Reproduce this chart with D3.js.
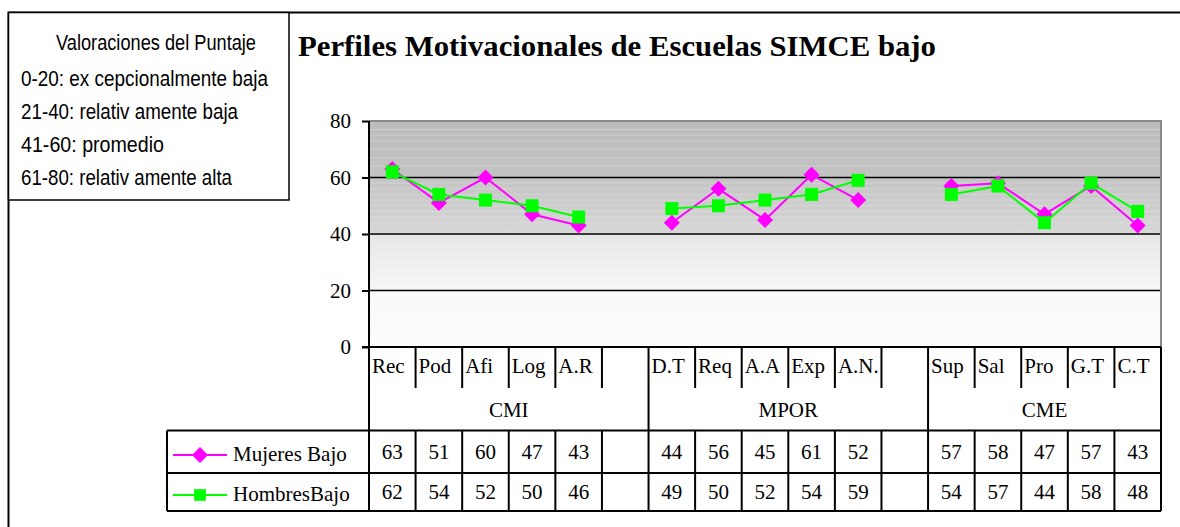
<!DOCTYPE html>
<html>
<head>
<meta charset="utf-8">
<script src="https://cdn.jsdelivr.net/npm/d3@7"></script>
<style>
body{margin:0;background:#fff;}
svg{display:block;}
</style>
</head>
<body>
<div id="plot"></div>
<script>
// data
var categories = ["Rec","Pod","Afi","Log","A.R","","D.T","Req","A.A","Exp","A.N.","","Sup","Sal","Pro","G.T","C.T"];
var groupNames = ["CMI","MPOR","CME"];
var groupStart = [0,6,12];
var groupEnd = [6,12,17];
var mujeres = [63,51,60,47,43,null,44,56,45,61,52,null,57,58,47,57,43];
var hombres = [62,54,52,50,46,null,49,50,52,54,59,null,54,57,44,58,48];
var seriesNames = ["Mujeres Bajo","HombresBajo"];
var yTicks = [0,20,40,60,80];
var legendTitle = "Valoraciones del Puntaje";
var legendLines = ["0-20: ex cepcionalmente baja","21-40: relativ amente baja","41-60: promedio","61-80: relativ amente alta"];
var legendWidths = [247,217,143,211];

var W = 1180, H = 527;
var serif = "'Liberation Serif','Times New Roman',serif";
var sans = "'Liberation Sans',Arial,sans-serif";

var svg = d3.select('#plot').append('svg')
    .attr('width',W).attr('height',H);

// plot geometry
var plotL = 369, plotR = 1161, plotT = 121, plotB = 347;
var catB = 388, grpB = 430.5, row1B = 473, row2B = 511, tableL = 167;

var x = d3.scaleBand().domain(d3.range(categories.length)).range([plotL,plotR]);
var y = d3.scaleLinear().domain([0,80]).range([plotB,plotT]);

// outer frame
svg.append('path')
    .attr('d','M8.5,'+H+'V12.5H'+W)
    .attr('fill','none').attr('stroke','#000').attr('stroke-width',2);

// background gradient
var defs = svg.append('defs');
var grad = defs.append('linearGradient').attr('id','bg')
    .attr('x1',0).attr('y1',0).attr('x2',0).attr('y2',1);
[[0,'#bcbcbc'],[0.22,'#c2c2c2'],[0.49,'#d6d6d6'],[0.51,'#e8e8e8'],[0.74,'#f5f5f5'],[0.76,'#f9f9f9'],[1,'#fcfcfc']]
    .forEach(function(s){ grad.append('stop').attr('offset',s[0]).attr('stop-color',s[1]); });

svg.append('rect')
    .attr('x',plotL).attr('y',plotT)
    .attr('width',plotR-plotL).attr('height',plotB-plotT)
    .attr('fill','url(#bg)');

// faint banding in the upper part of the fill
svg.append('g').selectAll('line')
    .data([64,67,70,73,75,77,58,56,54,52,50,48,46,44])
    .enter().append('line')
    .attr('x1',plotL).attr('x2',plotR)
    .attr('y1',function(d){return y(d);}).attr('y2',function(d){return y(d);})
    .attr('stroke','#fff').attr('stroke-opacity',0.22).attr('stroke-width',1);

// gridlines
svg.append('g').selectAll('line')
    .data([20,40,60])
    .enter().append('line')
    .attr('x1',plotL).attr('x2',plotR)
    .attr('y1',function(d){return y(d);}).attr('y2',function(d){return y(d);})
    .attr('stroke','#000').attr('stroke-width',1.5);

// top and right border of plot
svg.append('path')
    .attr('d','M'+plotL+','+y(80)+'H'+plotR+'V'+plotB)
    .attr('fill','none').attr('stroke','#888').attr('stroke-width',2);

// y axis
var yAxis = svg.append('g')
    .attr('transform','translate('+plotL+',0)')
    .call(d3.axisLeft(y).tickValues(yTicks).tickSize(7).tickPadding(11));
yAxis.select('.domain').remove();
yAxis.selectAll('line').attr('stroke','#000').attr('stroke-width',2);
yAxis.selectAll('text').attr('font-family',serif).attr('font-size',21).attr('fill','#000');

// table lines
var tl = svg.append('g').attr('stroke','#000').attr('stroke-width',2).attr('fill','none');
tl.append('line').attr('x1',plotL-7).attr('x2',plotR).attr('y1',plotB).attr('y2',plotB);
tl.append('line').attr('x1',plotL).attr('x2',plotL).attr('y1',plotT).attr('y2',row2B);
[grpB,row1B,row2B].forEach(function(yy){
    tl.append('line').attr('x1',tableL).attr('x2',plotR).attr('y1',yy).attr('y2',yy);
});
tl.append('line').attr('x1',tableL).attr('x2',tableL).attr('y1',grpB).attr('y2',row2B);

// category separators (short in category row, full in data rows)
var bounds = d3.range(1,categories.length+1).map(function(i){
    return i < categories.length ? x(i) : plotR;
});
bounds.forEach(function(bx,i){
    var isGroup = groupEnd.indexOf(i+1) >= 0;
    tl.append('line').attr('x1',bx).attr('x2',bx)
        .attr('y1',plotB).attr('y2',isGroup ? row2B : catB);
    if(!isGroup){
        tl.append('line').attr('x1',bx).attr('x2',bx).attr('y1',grpB).attr('y2',row2B);
    }
});

// category labels
svg.append('g').selectAll('text')
    .data(categories)
    .enter().append('text')
    .attr('x',function(d,i){return x(i)+3;})
    .attr('y',373)
    .attr('font-family',serif).attr('font-size',21)
    .text(function(d){return d;});

// group labels
svg.append('g').selectAll('text')
    .data(groupNames)
    .enter().append('text')
    .attr('x',function(d,i){
        var a = x(groupStart[i]);
        var b = groupEnd[i] < categories.length ? x(groupEnd[i]) : plotR;
        return (a+b)/2;
    })
    .attr('y',417)
    .attr('text-anchor','middle')
    .attr('font-family',serif).attr('font-size',21)
    .text(function(d){return d;});

// value rows
var rows = [mujeres,hombres];
var rowBase = [459,499];
rows.forEach(function(vals,r){
    svg.append('g').selectAll('text')
        .data(vals)
        .enter().append('text')
        .attr('x',function(d,i){return x(i)+x.bandwidth()/2;})
        .attr('y',rowBase[r])
        .attr('text-anchor','middle')
        .attr('font-family',serif).attr('font-size',21)
        .text(function(d){return d == null ? '' : d;});
});

// series
var colors = ['#ff00ff','#00ff00'];
var line = d3.line()
    .defined(function(d){return d != null;})
    .x(function(d,i){return x(i)+x.bandwidth()/2;})
    .y(function(d){return y(d);});

var diamond = 'M0,-8L8,0L0,8L-8,0Z';
var square = 'M-6.5,-6.5H6.5V6.5H-6.5Z';
var shapes = [diamond,square];

rows.forEach(function(vals,r){
    svg.append('path')
        .datum(vals)
        .attr('d',line)
        .attr('fill','none')
        .attr('stroke',colors[r]).attr('stroke-width',2);
});
rows.forEach(function(vals,r){
    svg.append('g').selectAll('path')
        .data(vals.map(function(v,i){return {v:v,i:i};}).filter(function(d){return d.v != null;}))
        .enter().append('path')
        .attr('d',shapes[r])
        .attr('transform',function(d){return 'translate('+(x(d.i)+x.bandwidth()/2)+','+y(d.v)+')';})
        .attr('fill',colors[r]);
});

// legend keys in table
var keyY = [455,495];
seriesNames.forEach(function(name,r){
    svg.append('line')
        .attr('x1',173).attr('x2',227).attr('y1',keyY[r]).attr('y2',keyY[r])
        .attr('stroke',colors[r]).attr('stroke-width',2);
    svg.append('path')
        .attr('d',shapes[r])
        .attr('transform','translate(200,'+keyY[r]+')'+(r==1?' scale(0.9)':''))
        .attr('fill',colors[r]);
    svg.append('text')
        .attr('x',233).attr('y',rowBase[r]+1.5)
        .attr('font-family',serif).attr('font-size',21)
        .text(name);
});

// title
svg.append('text')
    .attr('x',298).attr('y',56)
    .attr('font-family',serif).attr('font-size',30).attr('font-weight','bold')
    .attr('textLength',638).attr('lengthAdjust','spacingAndGlyphs')
    .text('Perfiles Motivacionales de Escuelas SIMCE bajo');

// score legend box
svg.append('rect')
    .attr('x',8.5).attr('y',12.5).attr('width',280.5).attr('height',187.5)
    .attr('fill','#fff').attr('stroke','#000').attr('stroke-width',1.5);

svg.append('text')
    .attr('x',56).attr('y',50)
    .attr('font-family',sans).attr('font-size',22)
    .attr('textLength',200).attr('lengthAdjust','spacingAndGlyphs')
    .text(legendTitle);

svg.append('g').selectAll('text')
    .data(legendLines)
    .enter().append('text')
    .attr('x',21)
    .attr('y',function(d,i){return [86,119,152,185][i];})
    .attr('font-family',sans).attr('font-size',22)
    .attr('textLength',function(d,i){return legendWidths[i];})
    .attr('lengthAdjust','spacingAndGlyphs')
    .text(function(d){return d;});
</script>
</body>
</html>
